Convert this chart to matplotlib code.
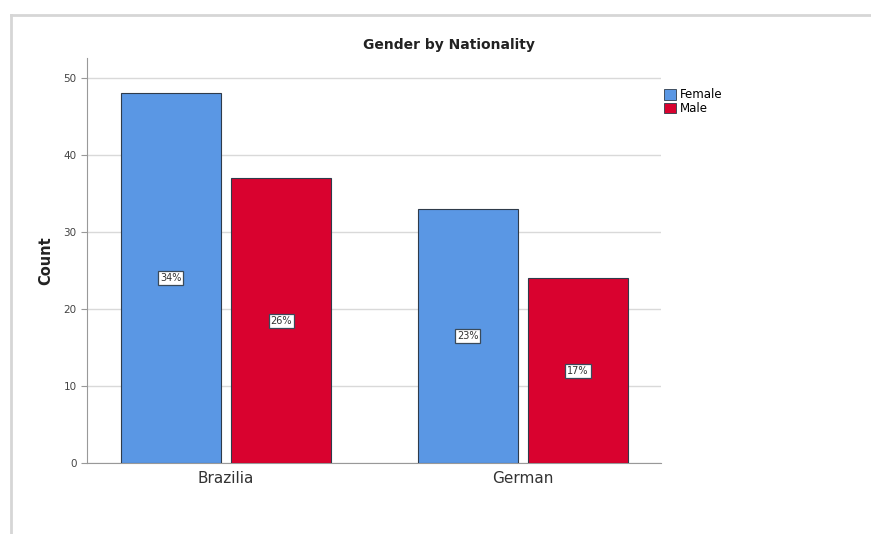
import matplotlib
matplotlib.use("Agg")
import matplotlib.pyplot as plt
from matplotlib.lines import Line2D
from matplotlib.patches import Patch
import numpy as np

# ── Data ──
nationalities = ["Brazilia", "German"]
genders = ["Female", "Male"]
female_counts = [48, 33]
male_counts = [37, 24]
colors = {"Female": "#5a97e4", "Male": "#d9022f"}

total = sum(female_counts) + sum(male_counts)

# ── Canvas ──
fig = plt.figure(figsize=(8.71, 5.34), dpi=100)
fig.patch.set_facecolor("white")
ax = fig.add_axes([87 / 871, 1 - 463 / 534, (661 - 87) / 871, (463 - 58) / 534])

x = np.arange(len(nationalities))
w = 0.337
off = 0.186
series = [("Female", female_counts, -off), ("Male", male_counts, off)]
for name, vals, dx in series:
    bars = ax.bar(x + dx, vals, width=w, color=colors[name], edgecolor="#2f3b4a",
                  linewidth=0.8, zorder=3, label=name)
    for b, v in zip(bars, vals):
        ax.text(b.get_x() + b.get_width() / 2, v / 2, f"{round(100 * v / total)}%",
                ha="center", va="center", fontsize=7, color="#333333", zorder=4,
                bbox=dict(boxstyle="square,pad=0.2", facecolor="white",
                          edgecolor="#3a4a5a", linewidth=0.9))

ax.set_xlim(-0.468, 1.465)
ax.set_ylim(0, 52.6)
ax.set_yticks([0, 10, 20, 30, 40, 50])
ax.yaxis.grid(True, color="#d9d9d9", linewidth=1, zorder=0)
ax.set_axisbelow(True)
for s in ["top", "right"]:
    ax.spines[s].set_visible(False)
ax.spines["left"].set_color("#999999")
ax.spines["bottom"].set_color("#999999")
ax.tick_params(axis="y", labelsize=7.5, colors="#999999", labelcolor="#444444", length=4)
ax.set_xticks(x)
ax.set_xticklabels(nationalities, fontsize=11, color="#333333")
ax.tick_params(axis="x", length=0, pad=6)
ax.set_ylabel("Count", fontsize=10.5, fontweight="bold", color="#222222", labelpad=7)

fig.text(449 / 871, 1 - 45 / 534, "Gender by Nationality", ha="center", va="center",
         fontsize=10, fontweight="bold", color="#222222")

handles = [Patch(facecolor=colors[g], edgecolor="#2f3b4a", linewidth=0.6) for g in genders]
fig.legend(handles, genders, loc="upper left", bbox_to_anchor=(662 / 871, 1 - 86 / 534),
           frameon=False, fontsize=8.5, handlelength=1.0, handleheight=1.0,
           handletextpad=0.3, labelspacing=0.05, borderaxespad=0, borderpad=0.2)

# ── outer frame ──
fig.add_artist(Line2D([11 / 871, 1], [1 - 15 / 534, 1 - 15 / 534], color="#d6d6d6", lw=2))
fig.add_artist(Line2D([11 / 871, 11 / 871], [0, 1 - 15 / 534], color="#d6d6d6", lw=2))

fig.savefig("out.png", dpi=100, facecolor="white")
